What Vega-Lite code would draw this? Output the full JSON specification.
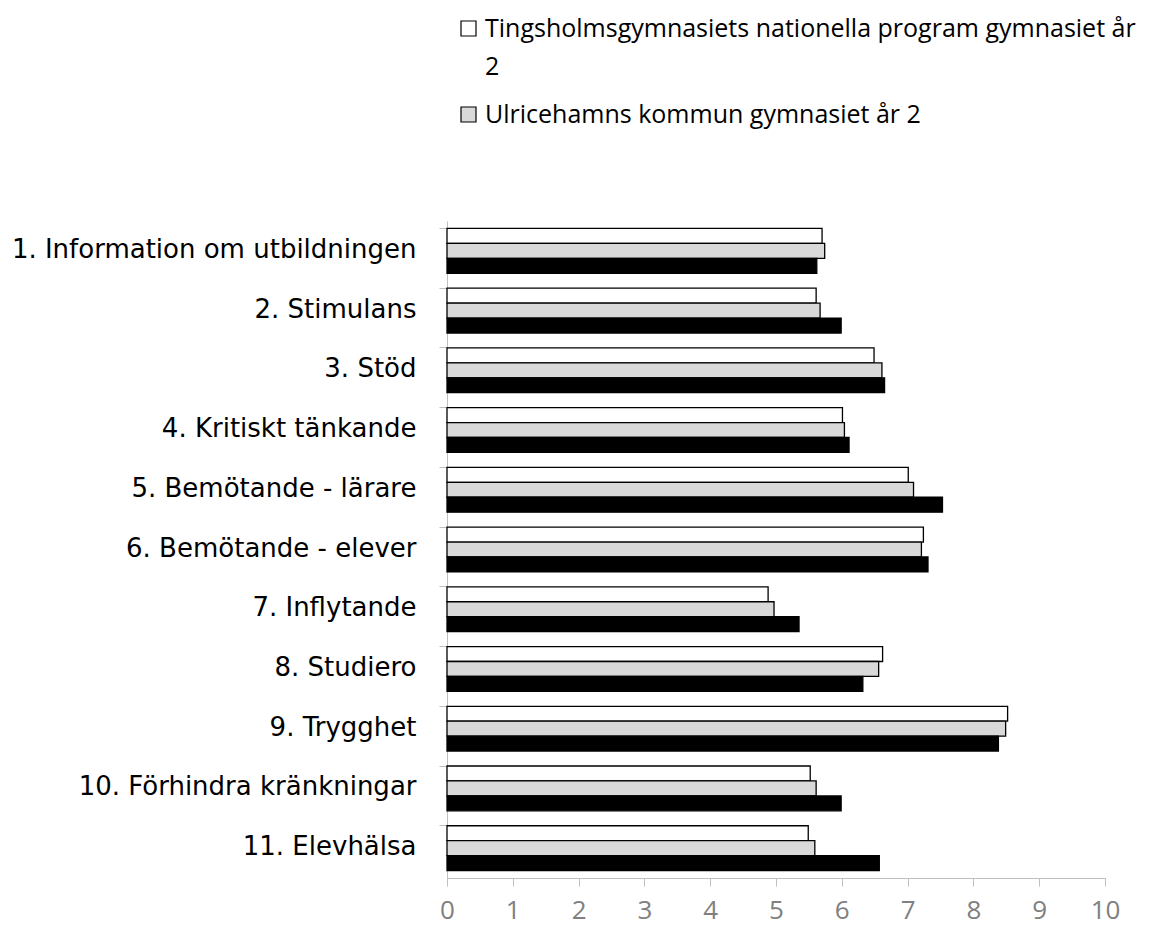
{
  "$schema": "https://vega.github.io/schema/vega-lite/v6.json",
  "width": 658,
  "height": 657,
  "autosize": {"type": "none"},
  "padding": {"left": 447, "top": 221, "right": 47, "bottom": 50},
  "background": "white",
  "data": {
    "values": [
      {"cat": "1. Information om utbildningen", "series": "Tingsholmsgymnasiets nationella program gymnasiet år 2", "value": 5.70},
      {"cat": "1. Information om utbildningen", "series": "Ulricehamns kommun gymnasiet år 2", "value": 5.74},
      {"cat": "1. Information om utbildningen", "series": "Övriga", "value": 5.62},
      {"cat": "2. Stimulans", "series": "Tingsholmsgymnasiets nationella program gymnasiet år 2", "value": 5.61},
      {"cat": "2. Stimulans", "series": "Ulricehamns kommun gymnasiet år 2", "value": 5.67},
      {"cat": "2. Stimulans", "series": "Övriga", "value": 5.99},
      {"cat": "3. Stöd", "series": "Tingsholmsgymnasiets nationella program gymnasiet år 2", "value": 6.49},
      {"cat": "3. Stöd", "series": "Ulricehamns kommun gymnasiet år 2", "value": 6.61},
      {"cat": "3. Stöd", "series": "Övriga", "value": 6.65},
      {"cat": "4. Kritiskt tänkande", "series": "Tingsholmsgymnasiets nationella program gymnasiet år 2", "value": 6.01},
      {"cat": "4. Kritiskt tänkande", "series": "Ulricehamns kommun gymnasiet år 2", "value": 6.04},
      {"cat": "4. Kritiskt tänkande", "series": "Övriga", "value": 6.11},
      {"cat": "5. Bemötande - lärare", "series": "Tingsholmsgymnasiets nationella program gymnasiet år 2", "value": 7.01},
      {"cat": "5. Bemötande - lärare", "series": "Ulricehamns kommun gymnasiet år 2", "value": 7.09},
      {"cat": "5. Bemötande - lärare", "series": "Övriga", "value": 7.53},
      {"cat": "6. Bemötande - elever", "series": "Tingsholmsgymnasiets nationella program gymnasiet år 2", "value": 7.24},
      {"cat": "6. Bemötande - elever", "series": "Ulricehamns kommun gymnasiet år 2", "value": 7.21},
      {"cat": "6. Bemötande - elever", "series": "Övriga", "value": 7.31},
      {"cat": "7. Inflytande", "series": "Tingsholmsgymnasiets nationella program gymnasiet år 2", "value": 4.88},
      {"cat": "7. Inflytande", "series": "Ulricehamns kommun gymnasiet år 2", "value": 4.97},
      {"cat": "7. Inflytande", "series": "Övriga", "value": 5.35},
      {"cat": "8. Studiero", "series": "Tingsholmsgymnasiets nationella program gymnasiet år 2", "value": 6.62},
      {"cat": "8. Studiero", "series": "Ulricehamns kommun gymnasiet år 2", "value": 6.56},
      {"cat": "8. Studiero", "series": "Övriga", "value": 6.32},
      {"cat": "9. Trygghet", "series": "Tingsholmsgymnasiets nationella program gymnasiet år 2", "value": 8.52},
      {"cat": "9. Trygghet", "series": "Ulricehamns kommun gymnasiet år 2", "value": 8.49},
      {"cat": "9. Trygghet", "series": "Övriga", "value": 8.38},
      {"cat": "10. Förhindra kränkningar", "series": "Tingsholmsgymnasiets nationella program gymnasiet år 2", "value": 5.52},
      {"cat": "10. Förhindra kränkningar", "series": "Ulricehamns kommun gymnasiet år 2", "value": 5.61},
      {"cat": "10. Förhindra kränkningar", "series": "Övriga", "value": 5.99},
      {"cat": "11. Elevhälsa", "series": "Tingsholmsgymnasiets nationella program gymnasiet år 2", "value": 5.49},
      {"cat": "11. Elevhälsa", "series": "Ulricehamns kommun gymnasiet år 2", "value": 5.59},
      {"cat": "11. Elevhälsa", "series": "Övriga", "value": 6.57}
    ]
  },
  "mark": {"type": "bar", "stroke": "#000000", "strokeWidth": 1.3},
  "encoding": {
    "y": {
      "field": "cat",
      "type": "nominal",
      "sort": null,
      "scale": {"paddingInner": 0.25, "paddingOuter": 0.125},
      "axis": {
        "title": null,
        "bandPosition": 0,
        "tickSize": 8,
        "tickColor": "#bfbfbf",
        "domainColor": "#bfbfbf",
        "labelFont": "DejaVu Sans",
        "labelFontSize": 26,
        "labelColor": "#000000",
        "labelPadding": 23,
        "labelOffset": -1,
        "labelLimit": 0
      }
    },
    "yOffset": {
      "field": "series",
      "type": "nominal",
      "sort": ["Tingsholmsgymnasiets nationella program gymnasiet år 2", "Ulricehamns kommun gymnasiet år 2", "Övriga"]
    },
    "x": {
      "field": "value",
      "type": "quantitative",
      "scale": {"domain": [0, 10], "nice": false},
      "axis": {
        "title": null,
        "values": [0, 1, 2, 3, 4, 5, 6, 7, 8, 9, 10],
        "grid": false,
        "tickSize": 8,
        "tickColor": "#bfbfbf",
        "domainColor": "#bfbfbf",
        "labelFont": "Open Sans",
        "labelFontSize": 26,
        "labelColor": "#808080",
        "labelPadding": 11,
        "labelFlush": false
      }
    },
    "fill": {
      "field": "series",
      "type": "nominal",
      "scale": {
        "domain": ["Tingsholmsgymnasiets nationella program gymnasiet år 2", "Ulricehamns kommun gymnasiet år 2", "Övriga"],
        "range": ["#ffffff", "#d9d9d9", "#000000"]
      },
      "legend": {
        "title": null,
        "orient": "none",
        "legendX": 9,
        "legendY": -205,
        "values": ["Tingsholmsgymnasiets nationella program gymnasiet år 2", "Ulricehamns kommun gymnasiet år 2"],
        "symbolType": "square",
        "symbolSize": 225,
        "symbolStrokeColor": "#000000",
        "symbolStrokeWidth": 1.2,
        "labelFont": "Open Sans",
        "labelFontSize": 25,
        "labelColor": "#000000",
        "labelLimit": 0,
        "labelOffset": 4,
        "rowPadding": 22,
        "labelExpr": "datum.label == 'Tingsholmsgymnasiets nationella program gymnasiet år 2' ? ['Tingsholmsgymnasiets nationella program gymnasiet år', '2'] : datum.label"
      }
    }
  },
  "config": {
    "view": {"stroke": null},
    "style": {"guide-label": {"lineHeight": 38}}
  }
}
